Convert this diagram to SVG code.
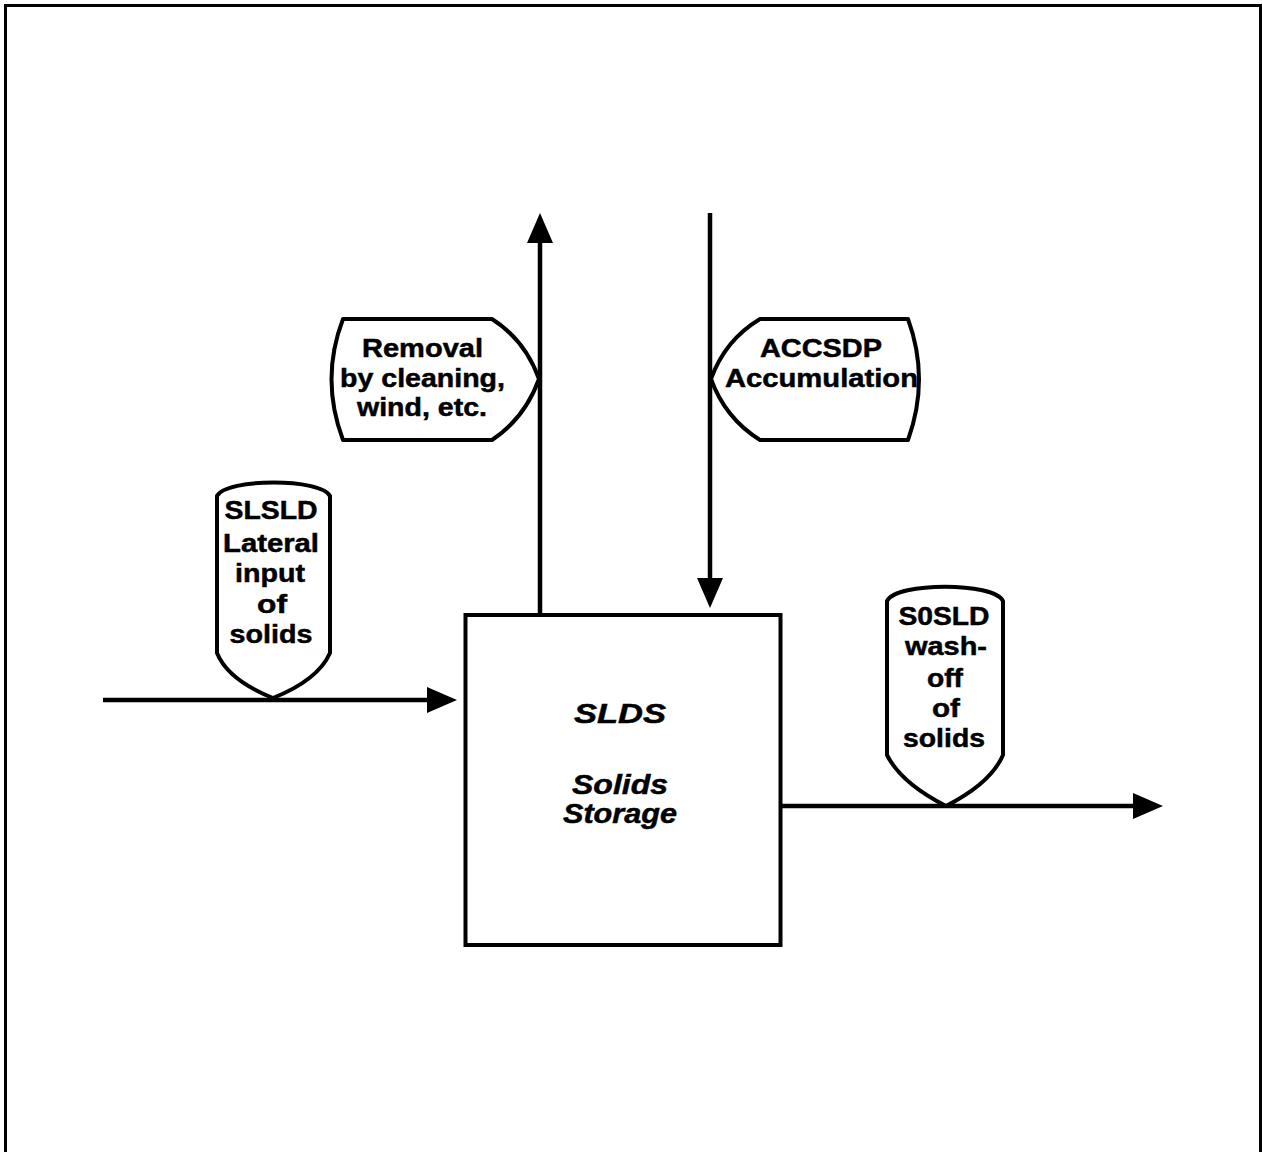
<svg xmlns="http://www.w3.org/2000/svg" width="1262" height="1152" viewBox="0 0 1262 1152">
<style>
.lbl{font-family:"Liberation Sans",Arial,sans-serif;font-weight:bold;font-size:26px;fill:#000;stroke:#000;stroke-width:0.5;text-anchor:middle}
.box{font-family:"Liberation Sans",Arial,sans-serif;font-weight:bold;font-style:italic;font-size:28px;fill:#000;stroke:#000;stroke-width:0.5;text-anchor:middle}
.shape{fill:#fff;stroke:#000;stroke-width:4;stroke-linejoin:round}
.conn{fill:none;stroke:#000;stroke-width:4.5}
</style>
<defs>
<marker id="ah" markerUnits="userSpaceOnUse" markerWidth="32" markerHeight="28" refX="0" refY="13" orient="auto" viewBox="0 0 32 28">
<path d="M0,0 L30,13 L0,26 Z" fill="#000"/>
</marker>
</defs>
<rect x="5.5" y="5.5" width="1255" height="1160" fill="#fff" stroke="#000" stroke-width="3"/>
<g id="connectors">
<line class="conn" x1="103" y1="700" x2="427" y2="700" marker-end="url(#ah)"/>
<line class="conn" x1="540" y1="615" x2="540" y2="243" marker-end="url(#ah)"/>
<line class="conn" x1="710" y1="213" x2="710" y2="578" marker-end="url(#ah)"/>
<line class="conn" x1="782" y1="806" x2="1133" y2="806" marker-end="url(#ah)"/>
</g>
<g id="node-slds">
<rect x="465.5" y="615" width="315" height="330" fill="#fff" stroke="#000" stroke-width="4"/>
<text class="box" x="620" y="723" textLength="92" lengthAdjust="spacingAndGlyphs">SLDS</text>
<text class="box" x="620" y="794" textLength="96" lengthAdjust="spacingAndGlyphs">Solids</text>
<text class="box" x="620" y="823" textLength="114" lengthAdjust="spacingAndGlyphs">Storage</text>
</g>
<g id="node-removal">
<path class="shape" d="M343,319 L492,319 Q525,340 539,379 Q525,418 492,440 L343,440 Q320,379 343,319 Z"/>
<text class="lbl" x="422.5" y="357" textLength="121" lengthAdjust="spacingAndGlyphs">Removal</text>
<text class="lbl" x="422.5" y="387" textLength="165" lengthAdjust="spacingAndGlyphs">by cleaning,</text>
<text class="lbl" x="422" y="416" textLength="130" lengthAdjust="spacingAndGlyphs">wind, etc.</text>
</g>
<g id="node-accsdp">
<path class="shape" d="M711,379 Q725,340 760,319 L908,319 Q930,379 908,440 L760,440 Q725,418 711,379 Z"/>
<text class="lbl" x="821" y="357" textLength="122" lengthAdjust="spacingAndGlyphs">ACCSDP</text>
<text class="lbl" x="821.5" y="387" textLength="193" lengthAdjust="spacingAndGlyphs">Accumulation</text>
</g>
<g id="node-slsld">
<path class="shape" d="M217,496 C226,478 321,478 330,496 L330,653 Q318,680 273,698 Q228,680 217,653 Z"/>
<text class="lbl" x="271" y="519" textLength="93" lengthAdjust="spacingAndGlyphs">SLSLD</text>
<text class="lbl" x="271" y="552" textLength="96" lengthAdjust="spacingAndGlyphs">Lateral</text>
<text class="lbl" x="270" y="582" textLength="70" lengthAdjust="spacingAndGlyphs">input</text>
<text class="lbl" x="272" y="613" textLength="30" lengthAdjust="spacingAndGlyphs">of</text>
<text class="lbl" x="271" y="643" textLength="83" lengthAdjust="spacingAndGlyphs">solids</text>
</g>
<g id="node-s0sld">
<path class="shape" d="M887,601 C896,582 994,582 1003,601 L1003,755 Q991,783 946,806 Q901,783 887,755 Z"/>
<text class="lbl" x="944" y="625" textLength="91" lengthAdjust="spacingAndGlyphs">S0SLD</text>
<text class="lbl" x="946" y="655" textLength="82" lengthAdjust="spacingAndGlyphs">wash-</text>
<text class="lbl" x="945" y="687" textLength="36" lengthAdjust="spacingAndGlyphs">off</text>
<text class="lbl" x="946" y="717" textLength="28" lengthAdjust="spacingAndGlyphs">of</text>
<text class="lbl" x="944" y="747" textLength="82" lengthAdjust="spacingAndGlyphs">solids</text>
</g>
</svg>
